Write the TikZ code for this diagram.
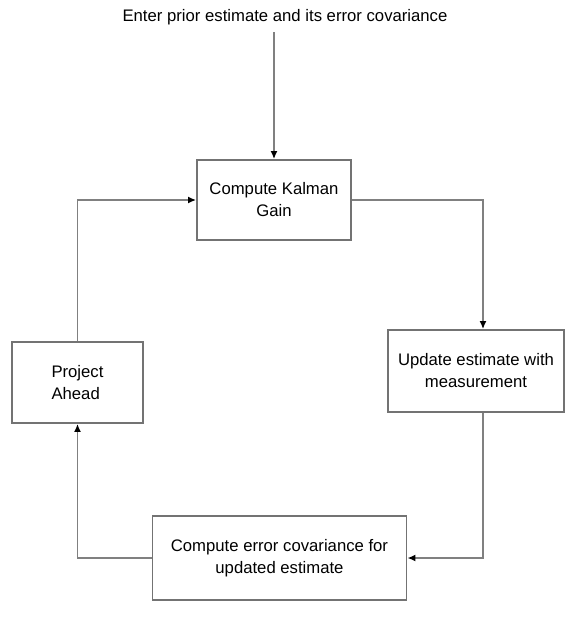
\documentclass[tikz,border=0pt]{standalone}
\usepackage{fontspec}
\setmainfont{Liberation Sans}
\usetikzlibrary{arrows.meta}

\begin{document}
\begin{tikzpicture}[x=1pt,y=-1pt,
    every node/.style={font=\fontsize{16.7}{22}\selectfont,align=center},
    stage/.style={draw=black!55,line width=1.8pt,inner sep=0pt},
    flow/.style={draw=black!50,line width=1.8pt,-{Latex[black,length=8pt,width=7pt]}}]
    \useasboundingbox (0,0) rectangle (565,622);
    %
    \node (prior) at (285,17) {Enter prior estimate and its error covariance};
    \node[stage,minimum width=154pt,minimum height=80pt] (kalman) at (274,200) {Compute Kalman\\Gain};
    \node[stage,minimum width=176pt,minimum height=82pt] (update) at (476,371) {Update estimate with\\measurement};
    \node[stage,minimum width=254pt,minimum height=84pt] (cov) at (279.5,558) {Compute error covariance for\\updated estimate};
    \node[stage,minimum width=131pt,minimum height=81pt,align=left] (project) at (77.5,382.5) {Project\\Ahead};
    %
    \coordinate (rturn) at (483,200);
    %
    \draw[flow] (prior.south -| kalman.north) ++(0,4) -- (kalman.north);
    \draw[flow] (kalman.east) -- (rturn) -- (rturn |- update.north);
    \draw[flow] (rturn |- update.south) -- (rturn |- cov.east) -- (cov.east);
    \draw[flow] (cov.west) -| (project.south);
    \draw[flow] (project.north) |- (kalman.west);
    %
\end{tikzpicture}
\end{document}
